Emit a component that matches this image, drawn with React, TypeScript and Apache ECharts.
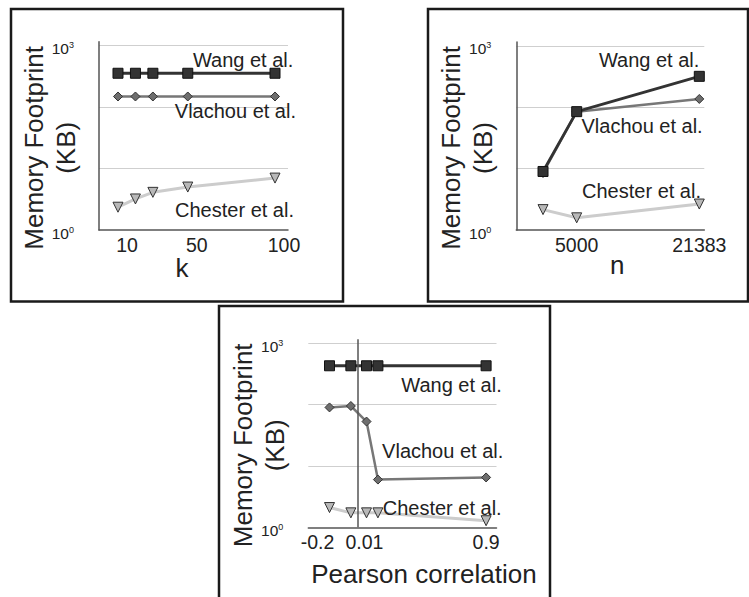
import React, { useEffect, useRef } from "react";
import * as echarts from "echarts";

// ---- data ----
const kValues = [10, 20, 30, 50, 100];
const kWang = [356, 356, 356, 356, 356];
const kVlachou = [149, 149, 149, 149, 149];
const kChester = [2.35, 3.2, 4.1, 5.0, 7.0];
const kTicks = [10, 50, 100];

const nValues = [500, 5000, 21383];
const nWang = [9, 85, 320];
const nVlachou = [8.5, 85, 137];
const nChester = [2.15, 1.58, 2.65];
const nTicks = [5000, 21383];

const rValues = [-0.2, -0.05, 0.06, 0.14, 0.9];
const rWang = [430, 430, 430, 430, 430];
const rVlachou = [90, 95, 53, 6, 6.5];
const rChester = [2.1, 1.72, 1.72, 1.72, 1.28];
const rTicks = [-0.2, 0.01, 0.9];

const seriesNames = ["Wang et al.", "Vlachou et al.", "Chester et al."];
const yName = "Memory Footprint\n(KB)";
const xNames = ["k", "n", "Pearson correlation"];

const FONT = "'Liberation Sans', Arial, Helvetica, sans-serif";
const TXT = "#222";
const Y_MAX = Math.pow(10, 3.065);

const pairs = (xs: number[], ys: number[]) => xs.map((x, i) => [x, ys[i]]);

const yLabelFormatter = (v: number) => {
  const l = Math.log10(v);
  const e = Math.round(l);
  if (Math.abs(l - e) > 1e-6) return "";
  if (e === 0 || e === 3) return `{b|10}{s|${e}}`;
  return "";
};

const yAxis = (gridIndex: number, showLine: boolean) => ({
  type: "log",
  logBase: 10,
  gridIndex,
  min: 1,
  max: Y_MAX,
  name: yName,
  nameLocation: "middle",
  nameRotate: 90,
  nameGap: 17.5,
  nameMoveOverlap: false,
  nameTextStyle: {
    fontSize: 26,
    lineHeight: 32,
    color: TXT,
    fontFamily: FONT,
    padding: [0, 24, 0, 0],
  },
  axisLine: { show: showLine, onZero: false, lineStyle: { color: "#555", width: 1.5 } },
  axisTick: { show: false },
  axisLabel: {
    margin: 25,
    fontSize: 15,
    color: TXT,
    fontFamily: FONT,
    formatter: yLabelFormatter,
    padding: [6, 0, 0, 0],
    rich: {
      b: { fontSize: 15.5, color: TXT, fontFamily: FONT },
      s: { fontSize: 9, color: TXT, fontFamily: FONT, verticalAlign: "top" },
    },
  },
  splitLine: {
    show: true,
    showMinLine: false,
    showMaxLine: false,
    lineStyle: { color: "#cfcfcf", width: 1 },
  },
});

const xAxis = (
  gridIndex: number,
  min: number,
  max: number,
  ticks: number[],
  name: string,
  nameGap: number,
  namePadding: number[],
  labelPadding: number[],
  rich?: any,
  fmt?: (v: number) => string
) => ({
  type: "value",
  gridIndex,
  min,
  max,
  name,
  nameLocation: "middle",
  nameGap,
  nameMoveOverlap: false,
  nameTextStyle: { fontSize: 26, color: TXT, fontFamily: FONT, padding: namePadding },
  axisLine: { show: true, onZero: false, lineStyle: { color: "#555", width: 1.5 } },
  axisTick: { show: false },
  splitLine: { show: false },
  axisLabel: {
    customValues: ticks,
    margin: 5,
    fontSize: 19.5,
    color: TXT,
    fontFamily: FONT,
    padding: labelPadding,
    formatter: fmt || ((v: number) => String(v)),
    rich,
  },
});

const makeSeries = (
  idx: number,
  xs: number[],
  wang: number[],
  vlachou: number[],
  chester: number[],
  extra?: any
) => [
  {
    name: seriesNames[2],
    type: "line",
    xAxisIndex: idx,
    yAxisIndex: idx,
    data: pairs(xs, chester),
    symbol: "triangle",
    symbolRotate: 180,
    symbolSize: 10,
    lineStyle: { color: "#cccccc", width: 3 },
    itemStyle: { color: "#b8b8b8", borderColor: "#333", borderWidth: 1 },
    z: 2,
    ...(extra || {}),
  },
  {
    name: seriesNames[1],
    type: "line",
    xAxisIndex: idx,
    yAxisIndex: idx,
    data: pairs(xs, vlachou),
    symbol: "diamond",
    symbolSize: 9,
    lineStyle: { color: "#777777", width: 2.5 },
    itemStyle: { color: "#6e6e6e", borderColor: "#333", borderWidth: 1 },
    z: 3,
  },
  {
    name: seriesNames[0],
    type: "line",
    xAxisIndex: idx,
    yAxisIndex: idx,
    data: pairs(xs, wang),
    symbol: "rect",
    symbolSize: 10,
    lineStyle: { color: "#333333", width: 2.8 },
    itemStyle: { color: "#333333", borderColor: "#111", borderWidth: 1 },
    z: 4,
  },
];

const note = (text: string, x: number, y: number) => ({
  type: "text",
  z: 10,
  style: {
    text,
    x,
    y,
    align: "right",
    textAlign: "right",
    verticalAlign: "middle",
    textVerticalAlign: "middle",
    fontSize: 20,
    fontFamily: FONT,
    fill: TXT,
  },
});

const frame = (x: number, y: number, width: number, height: number) => ({
  type: "rect",
  z: 10,
  shape: { x, y, width, height },
  style: { fill: "none", stroke: "#1a1a1a", lineWidth: 2.5 },
});

export default function App() {
  const ref = useRef<HTMLDivElement>(null);
  useEffect(() => {
    if (!ref.current) return;
    const chart = echarts.init(ref.current, undefined, { renderer: "svg" });
    const option: any = {
      animation: false,
      backgroundColor: "#ffffff",
      textStyle: { fontFamily: FONT },
      grid: [
        { left: 99, top: 41.7, width: 189, height: 188.3, outerBoundsMode: "none" },
        { left: 516.3, top: 42, width: 188, height: 188, outerBoundsMode: "none" },
        { left: 308.3, top: 339.3, width: 188.2, height: 188, outerBoundsMode: "none" },
      ],
      xAxis: [
        xAxis(0, -0.89, 107.45, kTicks, xNames[0], 25, [0, 23, 0, 0], [0, 0, 0, 18]),
        xAxis(1, -3071, 22051, nTicks, xNames[1], 22, [0, 0, 0, 14], [0, 0, 0, 0]),
        xAxis(
          2,
          -0.349,
          0.973,
          rTicks,
          xNames[2],
          34,
          [0, 0, 0, 43],
          [0, 0, 0, 0],
          {
            l: { fontSize: 19.5, color: TXT, fontFamily: FONT, padding: [0, 24, 0, 0] },
            r: { fontSize: 19.5, color: TXT, fontFamily: FONT, padding: [0, 0, 0, 10] },
          },
          (v: number) => (v < 0 ? `{l|${v}}` : v < 0.5 ? `{r|${v}}` : String(v))
        ),
      ],
      yAxis: [yAxis(0, true), yAxis(1, true), yAxis(2, false)],
      series: [
        ...makeSeries(0, kValues, kWang, kVlachou, kChester),
        ...makeSeries(1, nValues, nWang, nVlachou, nChester),
        ...makeSeries(2, rValues, rWang, rVlachou, rChester, {
          markLine: {
            silent: true,
            symbol: ["none", "none"],
            label: { show: false },
            lineStyle: { color: "#555", width: 1.5, type: "solid" },
            data: [{ xAxis: 0 }],
          },
        }),
      ],
      graphic: [
        frame(11, 9, 332, 292.5),
        frame(428, 9, 320, 292.5),
        frame(219, 306, 331, 300),
        note(seriesNames[0], 293.3, 59.8),
        note(seriesNames[1], 296, 111.4),
        note(seriesNames[2], 294, 210.4),
        note(seriesNames[0], 699.3, 59.8),
        note(seriesNames[1], 702.7, 126.1),
        note(seriesNames[2], 701, 191.1),
        note(seriesNames[0], 501.7, 384.8),
        note(seriesNames[1], 503.3, 450.8),
        note(seriesNames[2], 501.7, 508.1),
      ],
    };
    chart.setOption(option);
    return () => chart.dispose();
  }, []);
  return (
    <div
      ref={ref}
      style={{ position: "absolute", left: 0, top: 0, width: 749, height: 597, background: "#fff" }}
    />
  );
}
